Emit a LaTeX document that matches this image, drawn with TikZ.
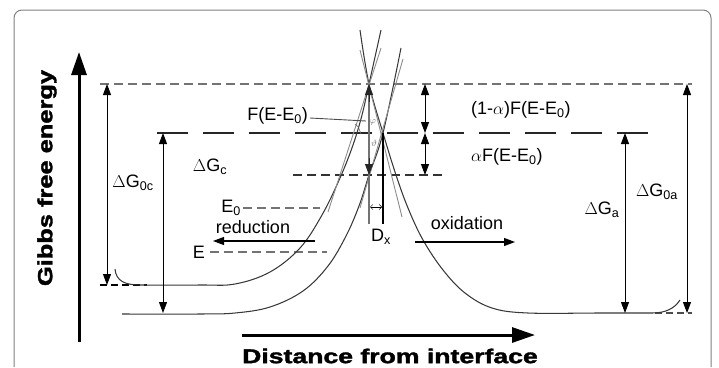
\documentclass[tikz,border=0pt]{standalone}
\usepackage{fontspec}
\setmainfont{Liberation Sans}
\newfontfamily\heavyfont[FakeBold=1.6]{Liberation Sans Bold}
\usetikzlibrary{arrows.meta}
\begin{document}
\begin{tikzpicture}[x=1pt,y=-1pt,
  lbl/.style={font=\fontsize{18}{20}\selectfont, inner sep=0pt},
  curve/.style={draw=black!78, line width=1.05pt},
  tang/.style={draw=black!45, line width=0.9pt},
  dsh/.style={draw=black!55, line width=1.2pt, dash pattern=on 9pt off 5pt},
  arr/.style={line width=0.9pt, -{Triangle[length=11pt,width=8pt]}},
  darr/.style={line width=0.9pt, {Triangle[length=11pt,width=8pt]}-{Triangle[length=11pt,width=8pt]}},
  axis/.style={line width=3pt, -{Triangle[length=23pt,width=15pt]}}
]
\useasboundingbox (0,0) rectangle (719,367);
% frame
\draw[black!50, line width=1pt, rounded corners=8pt] (14,367) -- (14,10) -- (711,10) -- (711,367);

% axes
\coordinate (yb) at (79,342); \coordinate (yt) at (79,52);
\coordinate (xb) at (242,335); \coordinate (xt) at (535,335);
\draw[axis] (yb) -- (yt);
\draw[axis] (xb) -- (xt);
\node[rotate=90, inner sep=0pt, font=\fontsize{20.5}{22}\selectfont\heavyfont] (ylab) at (47,178) {\scalebox{1.24}[1]{Gibbs free energy}};
\node[inner sep=0pt, font=\fontsize{20}{22}\selectfont\heavyfont] (xlab) at (390,356) {\scalebox{1.33}[1]{Distance from interface}};

% horizontal dashed levels
\draw[dsh] (100,84) -- (692,84);
\draw[black!85, line width=1.2pt, dash pattern=on 31pt off 15pt] (157,133) -- (657,133);
\draw[dsh, draw=black!80] (293,175) -- (445,175);
\draw[dsh] (243,208) -- (320,208);
\draw[dsh] (210,252) -- (327,252);
\draw[black, line width=1.2pt, dash pattern=on 7pt off 4pt] (100,285) -- (147,285);
\draw[black!70, line width=1.2pt, dash pattern=on 7pt off 4pt] (655,313) -- (692,313);

% curves
\draw[curve] (115,269) .. controls (116,281) and (125,285) .. (140,285);
\draw[curve] plot[smooth, tension=0.6] coordinates {(140,285) (200,285) (235,284) (270,272) (300,248) (322,215) (340,178) (353,145) (362,115) (369,84) (381,30)};
\draw[curve] plot[smooth, tension=0.6] coordinates {(122,314) (200,314) (235,313) (270,307) (303,291) (328,266) (346,236) (359,206) (369,175) (383,133) (401,48)};
\draw[curve] plot[smooth, tension=0.6] coordinates {(360,30) (369,84) (383,133) (396,175) (408,208) (423,240) (443,270) (465,293) (492,308) (528,313) (600,313) (652,313)};
\draw[curve] (652,313) .. controls (665,313) and (674,309) .. (680,300);

% tangents
\draw[tang] (381,48) -- (328,212);
\draw[tang] (360,50) -- (402,217);
\draw[tang] (403,59) -- (360,208);

% central verticals
\coordinate (ptop) at (369,84); \coordinate (pmid) at (383,133); \coordinate (plow) at (369,175);
\draw[black!55, line width=1.1pt] (ptop) -- (369,224);
\draw[arr, black!85] (369,102) -- (ptop);
\draw[arr, black!85] (369,158) -- (plow);
\draw[line width=1.1pt] (pmid) -- (383,224);
\draw[line width=0.5pt, {Straight Barb[length=2.5pt,width=5pt]}-{Straight Barb[length=2.5pt,width=5pt]}] (370,207) -- (382,207);
\node[lbl] (dx) at (381,237) {D\textsubscript{x}};
\node[font=\small, text=black!60, inner sep=0pt] (phi) at (373,122) {$\varphi$};
\node[font=\small, text=black!60, inner sep=0pt] (theta) at (374,143) {$\vartheta$};
\draw[black!60, line width=0.6pt] (355,124) .. controls (358,126) .. (361,134);

% F(E-E0) leader
\node[lbl, anchor=east] (fee) at (308,116) {F(E-E\textsubscript{0})};
\draw[black!70, line width=0.9pt] (fee.east) ++(2,2) -- (366,121);

% middle double arrows
\coordinate (ma) at (425,84); \coordinate (mb) at (425,133); \coordinate (mc) at (425,175);
\draw[darr] (ma) -- (mb);
\draw[darr] (mb) -- (mc);
\node[lbl, anchor=west] (onem) at (471,110) {(1-$\alpha$)F(E-E\textsubscript{0})};
\node[lbl, anchor=west] (alf) at (471,157) {$\alpha$F(E-E\textsubscript{0})};

% side arrows
\draw[darr] (107,84) -- (107,285);
\draw[darr] (163,133) -- (163,313);
\draw[darr] (625,133) -- (625,313);
\draw[darr] (687,84) -- (687,313);
\node[lbl] (g0c) at (133,183) {$\Delta$G\textsubscript{0c}};
\node[lbl] (gc) at (210,167) {$\Delta$G\textsubscript{c}};
\node[lbl] (ga) at (602,210) {$\Delta$G\textsubscript{a}};
\node[lbl] (g0a) at (657,192) {$\Delta$G\textsubscript{0a}};

% potentials and directions
\node[lbl, anchor=east] (e0) at (241,208) {E\textsubscript{0}};
\node[lbl, anchor=east] (e) at (205,252) {E};
\node[lbl] (red) at (253,227) {reduction};
\node[lbl] (ox) at (467,223) {oxidation};
\coordinate (ra) at (315,241); \coordinate (rb) at (213,241);
\coordinate (oa) at (415,242); \coordinate (ob) at (515,242);
\draw[arr, line width=1.1pt] (ra) -- (rb);
\draw[arr, line width=1.1pt] (oa) -- (ob);
\end{tikzpicture}
\end{document}
